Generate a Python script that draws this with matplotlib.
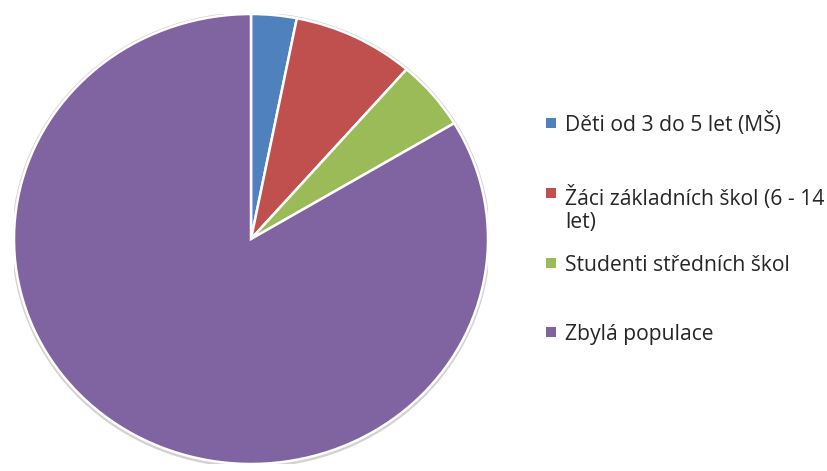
import matplotlib
matplotlib.use("Agg")
import matplotlib.pyplot as plt
from matplotlib.patches import Rectangle, Ellipse

labels = ["Děti od 3 do 5 let (MŠ)", "Žáci základních škol (6 - 14\nlet)",
          "Studenti středních škol", "Zbylá populace"]
values = [3.1, 8.3, 5.0, 83.6]
colors = ["#4F81BD", "#C0504D", "#9BBB59", "#8064A2"]

W, H = 828, 471
fig = plt.figure(figsize=(W / 100, H / 100), dpi=100)
fig.patch.set_facecolor("white")

cx, cy, rx, ry = 251, 239, 237, 225
ax = fig.add_axes([(cx - rx) / W, (H - cy - ry) / H, 2 * rx / W, 2 * ry / H])
ax.add_patch(Ellipse((0, -0.004), 2.02, 2.025, facecolor="#D2D2D2", edgecolor="none", zorder=0))
ax.pie(values, colors=colors, startangle=90, counterclock=False,
       wedgeprops=dict(edgecolor="white", linewidth=1.8), radius=1.0)
ax.set_aspect("auto")
ax.set_xlim(-1.0, 1.0)
ax.set_ylim(-1.0, 1.0)
ax.axis("off")

# legend (manual layout); baselines are of the first line of each entry
baselines = [131, 201, 271, 340]
line_px = 27
for lab, col, b in zip(labels, colors, baselines):
    fig.patches.append(Rectangle((546 / W, (H - b + 3) / H), 10 / W, 10 / H,
                                 transform=fig.transFigure, facecolor=col,
                                 edgecolor="none"))
    last = b + line_px * lab.count("\n")
    fig.text(565 / W, (H - last) / H, lab, fontsize=15.2, family="Open Sans",
             color="#262626", va="baseline", ha="left", linespacing=1.1)

fig.savefig("out.png", dpi=100, facecolor="white")
